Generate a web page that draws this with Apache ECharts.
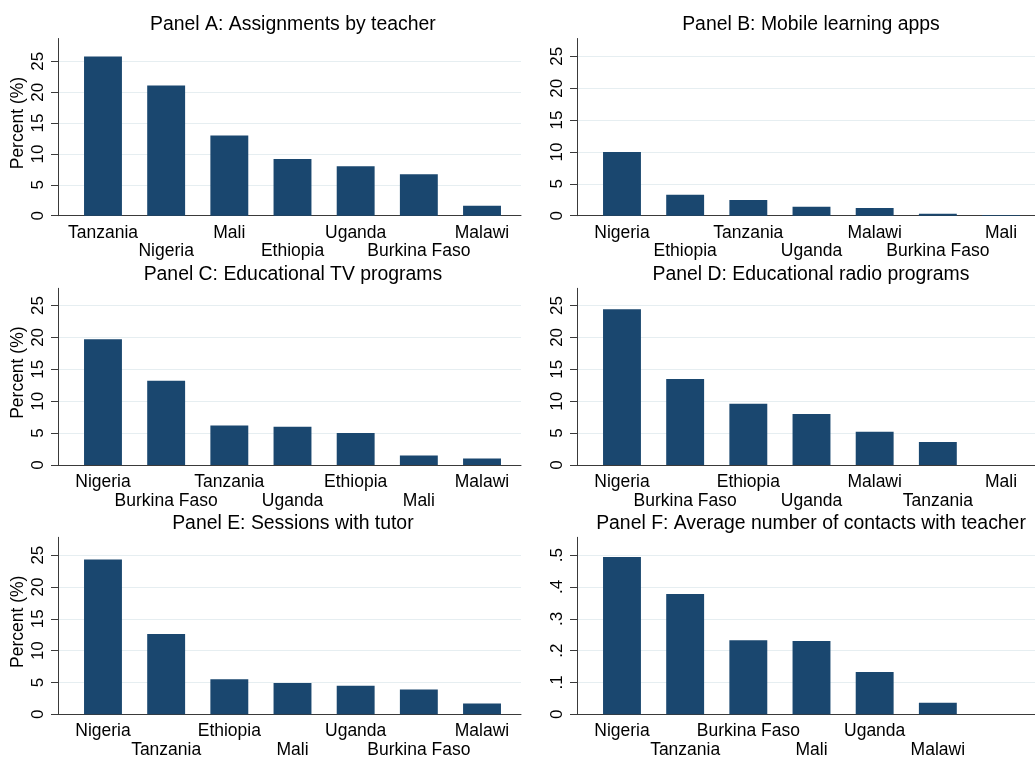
<!DOCTYPE html>
<html>
<head>
    <meta charset="utf-8">
    <title>Remote learning by country</title>
    <script src="https://cdn.jsdelivr.net/npm/echarts@6/dist/echarts.min.js"></script>
    <style>
        html, body { margin: 0; padding: 0; background: #fff; }
        #chart1 { width: 1035px; height: 767px; }
    </style>
</head>
<body>
<div id="chart1"></div>
<script>
    // 数据
    var catsA = ['Tanzania', 'Nigeria', 'Mali', 'Ethiopia', 'Uganda', 'Burkina Faso', 'Malawi'];
    var valsA = [25.8, 21.1, 13.0, 9.2, 8.0, 6.7, 1.6];

    var catsB = ['Nigeria', 'Ethiopia', 'Tanzania', 'Uganda', 'Malawi', 'Burkina Faso', 'Mali'];
    var valsB = [10.0, 3.3, 2.45, 1.4, 1.2, 0.3, 0.1];

    var catsC = ['Nigeria', 'Burkina Faso', 'Tanzania', 'Uganda', 'Ethiopia', 'Mali', 'Malawi'];
    var valsC = [19.7, 13.2, 6.2, 6.0, 5.0, 1.5, 1.0];

    var catsD = ['Nigeria', 'Burkina Faso', 'Ethiopia', 'Uganda', 'Malawi', 'Tanzania', 'Mali'];
    var valsD = [24.4, 13.5, 9.6, 8.0, 5.2, 3.6, 0];

    var catsE = ['Nigeria', 'Tanzania', 'Ethiopia', 'Mali', 'Uganda', 'Burkina Faso', 'Malawi'];
    var valsE = [24.3, 12.6, 5.5, 4.9, 4.5, 3.9, 1.7];

    var catsF = ['Nigeria', 'Tanzania', 'Burkina Faso', 'Mali', 'Uganda', 'Malawi', ''];
    var valsF = [0.494, 0.378, 0.233, 0.230, 0.133, 0.036, null];

    var pctTicks = [0, 5, 10, 15, 20, 25];
    var pctLabels = ['0', '5', '10', '15', '20', '25'];
    var contactTicks = [0, 0.1, 0.2, 0.3, 0.4, 0.5];
    var contactLabels = ['0', '.1', '.2', '.3', '.4', '.5'];

    var panels = [
        { title: 'Panel A: Assignments by teacher', cats: catsA, vals: valsA, ticks: pctTicks, labels: pctLabels, max: 28.7, row: 0, col: 0, yname: 'Percent (%)' },
        { title: 'Panel B: Mobile learning apps', cats: catsB, vals: valsB, ticks: pctTicks, labels: pctLabels, max: 27.8, row: 0, col: 1, yname: '' },
        { title: 'Panel C: Educational TV programs', cats: catsC, vals: valsC, ticks: pctTicks, labels: pctLabels, max: 27.7, row: 1, col: 0, yname: 'Percent (%)' },
        { title: 'Panel D: Educational radio programs', cats: catsD, vals: valsD, ticks: pctTicks, labels: pctLabels, max: 27.7, row: 1, col: 1, yname: '' },
        { title: 'Panel E: Sessions with tutor', cats: catsE, vals: valsE, ticks: pctTicks, labels: pctLabels, max: 27.8, row: 2, col: 0, yname: 'Percent (%)' },
        { title: 'Panel F: Average number of contacts with teacher', cats: catsF, vals: valsF, ticks: contactTicks, labels: contactLabels, max: 0.556, row: 2, col: 1, yname: '' }
    ];

    // layout
    var rowTop = [38.5, 288.3, 537.3];
    var rowBase = [215.7, 465, 714.3];
    var colAxis = [58, 577];
    var colRight = [521, 1035];
    var bandLeft = [71.4, 590.4];
    var bandWidth = 442.2;
    var titleX = [292.9, 811];
    var titleY = [15, 265, 514];

    var font = 'Liberation Sans, Arial, sans-serif';
    var axisColor = '#3a3a3a';
    var gridColor = '#e6eef1';
    var barColor = '#1a476f';

    var grids = [], xAxes = [], yAxes = [], series = [], titles = [];

    panels.forEach(function (p, k) {
        var T = rowTop[p.row], B = rowBase[p.row];
        var ax = colAxis[p.col], right = colRight[p.col];
        var h = B - T;
        var topTick = p.ticks[p.ticks.length - 1];
        var yTop = B - topTick / p.max * h;
        var g = k * 3;

        titles.push({
            text: p.title, left: titleX[p.col], top: titleY[p.row], textAlign: 'center', padding: 0,
            textStyle: { fontFamily: font, fontSize: 19.4, fontWeight: 'normal', color: '#000' }
        });

        // background: axis lines
        grids.push({ left: ax, top: T, width: right - ax, height: h });
        xAxes.push({
            gridIndex: g, type: 'value', min: 0, max: 1,
            axisLine: { show: true, lineStyle: { color: axisColor, width: 1 } },
            axisTick: { show: false }, axisLabel: { show: false }, splitLine: { show: false }
        });
        yAxes.push({
            gridIndex: g, type: 'value', min: 0, max: p.max,
            name: p.yname, nameLocation: 'middle', nameGap: 31,
            nameTextStyle: { fontFamily: font, fontSize: 17.5, color: '#000', padding: [0, 0, 0, 8] },
            axisLine: { show: true, lineStyle: { color: axisColor, width: 1 } },
            axisTick: { show: false }, axisLabel: { show: false }, splitLine: { show: false }
        });

        // ticks, labels, grid lines
        grids.push({ left: ax, top: yTop, width: right - ax, height: B - yTop });
        xAxes.push({ gridIndex: g + 1, type: 'value', show: false });
        yAxes.push({
            gridIndex: g + 1, type: 'value', min: p.ticks[0], max: topTick,
            interval: p.ticks[1] - p.ticks[0],
            axisLine: { show: false },
            axisTick: { show: true, length: 7, lineStyle: { color: axisColor } },
            axisLabel: {
                rotate: 90, margin: 11, fontFamily: font, fontSize: 17, color: '#000',
                formatter: function (v, i) { return p.labels[i]; }
            },
            splitLine: { show: true, lineStyle: { color: gridColor, width: 1 } }
        });

        // bars
        grids.push({ left: bandLeft[p.col], top: T, width: bandWidth, height: h });
        xAxes.push({
            gridIndex: g + 2, type: 'category', data: p.cats,
            axisLine: { show: false }, axisTick: { show: false },
            axisLabel: {
                interval: 0, margin: 8, fontFamily: font, fontSize: 17.5, lineHeight: 18.5, color: '#000',
                formatter: function (v, i) { return i % 2 ? '\n' + v : v; }
            }
        });
        yAxes.push({ gridIndex: g + 2, type: 'value', min: 0, max: p.max, show: false });
        series.push({
            type: 'bar', xAxisIndex: g + 2, yAxisIndex: g + 2, data: p.vals,
            barWidth: '60%', silent: true,
            itemStyle: { color: barColor }
        });
    });

    var myChart = echarts.init(document.getElementById('chart1'));
    myChart.setOption({
        animation: false,
        backgroundColor: '#fff',
        title: titles,
        grid: grids,
        xAxis: xAxes,
        yAxis: yAxes,
        series: series
    });
</script>
</body>
</html>
